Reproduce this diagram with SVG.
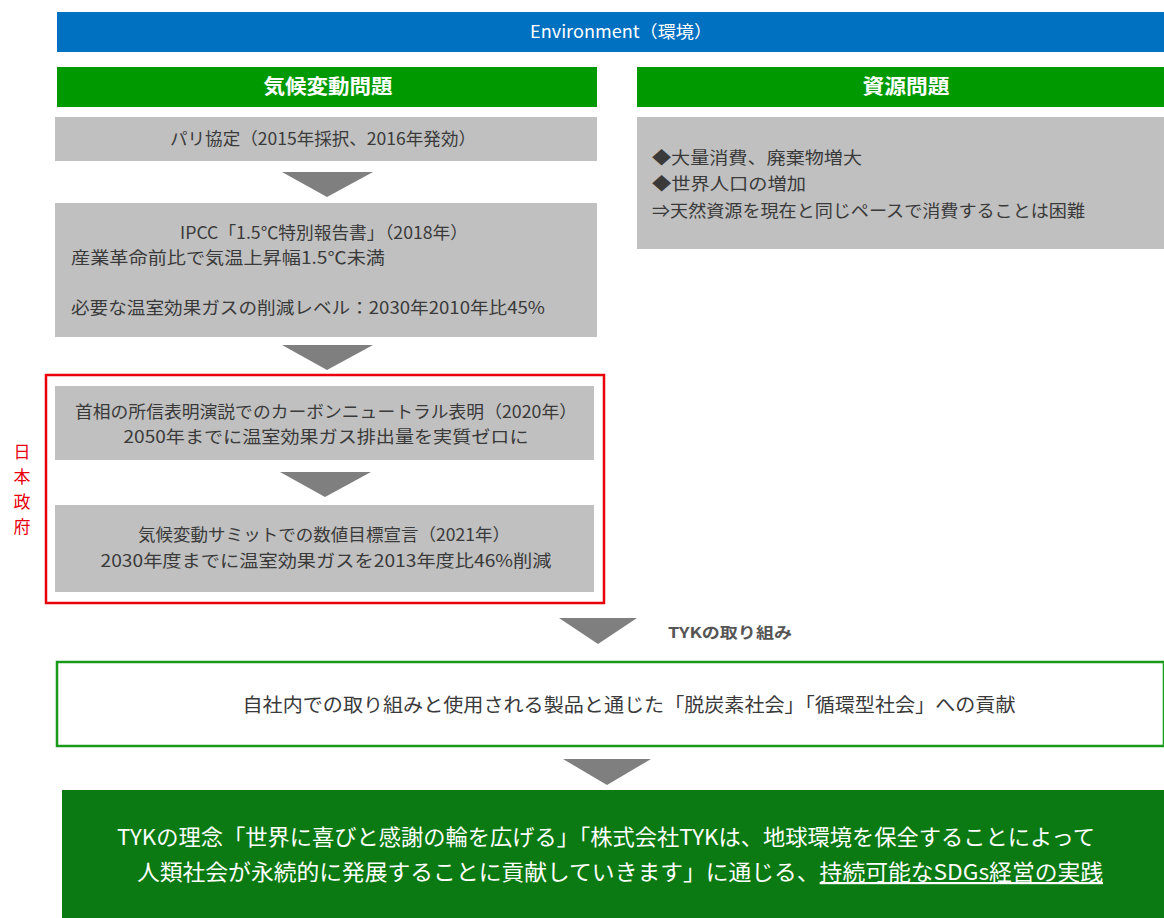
<svg xmlns="http://www.w3.org/2000/svg" width="1164" height="918" viewBox="0 0 1164 918">
<style>
text{font-family:"Noto Sans CJK JP","Noto Sans",sans-serif;}
.hd{fill:#fff;font-weight:bold;font-size:20px;text-anchor:middle;}
.gb{fill:#c0c0c0;}
.t{fill:#3a3a3a;font-size:17px;}
.c{text-anchor:middle;}
.arr{fill:#7f7f7f;}
.w{fill:#fff;font-size:22px;text-anchor:middle;}
.red{fill:#e8000b;font-size:17px;text-anchor:middle;}
</style>
<rect width="1164" height="918" fill="#fff"/>
<g id="env">
<rect x="57" y="12" width="1107" height="40" fill="#0070c0"/>
<text x="621" y="38" fill="#fff" font-size="17" text-anchor="middle" textLength="182" lengthAdjust="spacingAndGlyphs">Environment（環境）</text>
</g>
<g id="climate-header">
<rect x="57" y="67" width="540" height="40" fill="#009a00"/>
<text class="hd" x="328" y="94" textLength="129" lengthAdjust="spacingAndGlyphs">気候変動問題</text>
</g>
<g id="resource-header">
<rect x="637" y="67" width="527" height="40" fill="#009a00"/>
<text class="hd" x="906" y="94" textLength="87" lengthAdjust="spacingAndGlyphs">資源問題</text>
</g>
<g id="paris">
<rect class="gb" x="55" y="117" width="542" height="44"/>
<text class="t c" x="323" y="145" textLength="306" lengthAdjust="spacingAndGlyphs">パリ協定（2015年採択、2016年発効）</text>
</g>
<g id="ipcc">
<rect class="gb" x="55" y="203" width="542" height="134"/>
<text class="t c" x="324" y="239" textLength="288" lengthAdjust="spacingAndGlyphs">IPCC「1.5℃特別報告書」（2018年）</text>
<text class="t" x="71" y="264" textLength="314" lengthAdjust="spacingAndGlyphs">産業革命前比で気温上昇幅1.5℃未満</text>
<text class="t" x="71" y="314" textLength="474" lengthAdjust="spacingAndGlyphs">必要な温室効果ガスの削減レベル：2030年2010年比45%</text>
</g>
<g id="resource">
<rect class="gb" x="637" y="117" width="527" height="132"/>
<text class="t" x="652" y="164" textLength="210" lengthAdjust="spacingAndGlyphs">◆大量消費、廃棄物増大</text>
<text class="t" x="652" y="190" textLength="154" lengthAdjust="spacingAndGlyphs">◆世界人口の増加</text>
<text class="t" x="652" y="217" textLength="433" lengthAdjust="spacingAndGlyphs">⇒天然資源を現在と同じペースで消費することは困難</text>
</g>
<g id="government">
<rect x="46" y="375" width="558" height="228" fill="none" stroke="#e8000b" stroke-width="2.5"/>
<text class="red" x="22" y="458">日</text>
<text class="red" x="22" y="483">本</text>
<text class="red" x="22" y="508">政</text>
<text class="red" x="22" y="533">府</text>
</g>
<g id="pm-statement">
<rect class="gb" x="55" y="386" width="539" height="74"/>
<text class="t c" x="326" y="418" textLength="502" lengthAdjust="spacingAndGlyphs">首相の所信表明演説でのカーボンニュートラル表明（2020年）</text>
<text class="t c" x="326" y="443" textLength="405" lengthAdjust="spacingAndGlyphs">2050年までに温室効果ガス排出量を実質ゼロに</text>
</g>
<g id="summit">
<rect class="gb" x="55" y="505" width="539" height="87"/>
<text class="t c" x="324" y="541" textLength="372" lengthAdjust="spacingAndGlyphs">気候変動サミットでの数値目標宣言（2021年）</text>
<text class="t c" x="326" y="567" textLength="451" lengthAdjust="spacingAndGlyphs">2030年度までに温室効果ガスを2013年度比46%削減</text>
</g>
<g id="tyk-effort">
<rect x="57" y="662" width="1107" height="84" fill="#fff" stroke="#1a9a1a" stroke-width="2.5"/>
<text x="629" y="712" fill="#3a3a3a" font-size="19" text-anchor="middle" textLength="773" lengthAdjust="spacingAndGlyphs">自社内での取り組みと使用される製品と通じた「脱炭素社会」「循環型社会」への貢献</text>
</g>
<g id="sdgs">
<rect x="62" y="790" width="1102" height="128" fill="#0b7a12"/>
<text class="w" x="606" y="845" textLength="978" lengthAdjust="spacingAndGlyphs">TYKの理念「世界に喜びと感謝の輪を広げる」「株式会社TYKは、地球環境を保全することによって</text>
<text class="w" x="620" y="880" textLength="966" lengthAdjust="spacingAndGlyphs">人類社会が永続的に発展することに貢献していきます」に通じる、<tspan text-decoration="underline">持続可能なSDGs経営の実践</tspan></text>
</g>
<g id="connectors">
<polygon class="arr" points="282,172 373,172 327,197"/>
<polygon class="arr" points="282,345 373,345 327,370"/>
<polygon class="arr" points="280,472 371,472 325,497"/>
<polygon class="arr" points="559,618 637,618 598,644"/>
<text x="668" y="638" fill="#555" font-size="15" font-weight="bold" textLength="124" lengthAdjust="spacingAndGlyphs">TYKの取り組み</text>
<polygon class="arr" points="563,759 651,759 607,785"/>
</g>
</svg>
